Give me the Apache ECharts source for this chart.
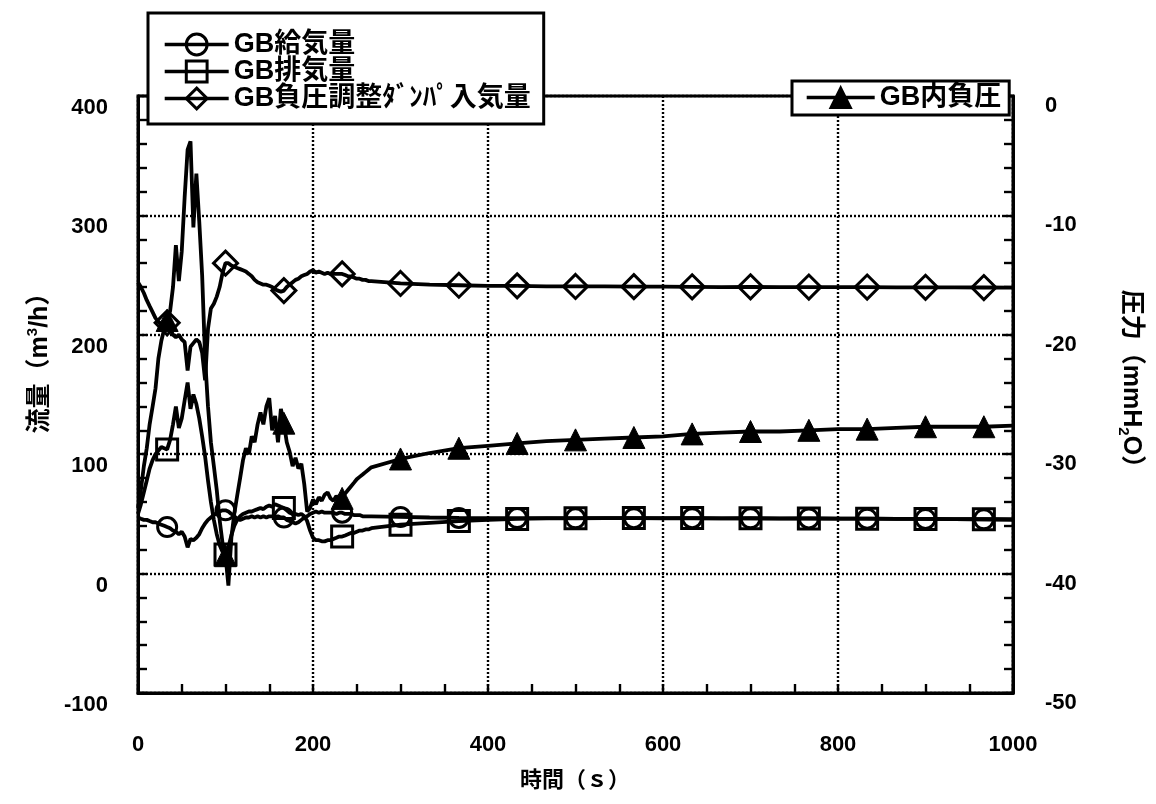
<!DOCTYPE html>
<html>
<head>
<meta charset="utf-8">
<script src="https://cdn.jsdelivr.net/npm/echarts@6/dist/echarts.min.js"></script>
<style>
  html, body { margin: 0; padding: 0; background: #fff; }
  #chart { width: 1156px; height: 804px; }
</style>
</head>
<body>
<div id="chart"></div>
<script>
// Sample times (s)
const times = [
  0, 3.3, 6.7, 10, 13.3, 16.7, 20, 23.3, 26.7, 30,
  33.3, 36.7, 40, 43.3, 46.7, 50, 53.3, 56.7, 60, 63.3,
  66.7, 70, 73.3, 76.7, 80, 83.3, 86.7, 90, 93.3, 96.7,
  100, 103.3, 106.7, 110, 113.3, 116.7, 120, 123.3, 126.7, 130,
  133.3, 136.7, 140, 143.3, 146.7, 150, 153.3, 156.7, 160, 163.3,
  166.7, 170, 173.3, 176.7, 180, 183.3, 186.7, 190, 193.3, 196.7,
  200, 203.3, 206.7, 210, 213.3, 216.7, 220, 223.3, 226.7, 230,
  233.3, 236.7, 240, 243.3, 246.7, 250, 253.3, 256.7, 260, 263.3,
  266.7,
  300, 333.3, 366.7, 400, 433.3, 466.7, 500, 533.3, 566.7, 600,
  633.3, 666.7, 700, 733.3, 766.7, 800, 833.3, 866.7, 900, 933.3,
  966.7, 1000
];

// GB給気量 (m3/h)
const supplyFlow = [
  47, 46, 45, 45, 44, 43, 43, 42, 41, 40,
  39, 38, 36, 35, 33, 35, 31, 22, 29, 28,
  30, 33, 38, 42, 45, 47, 49, 51, 52, 53,
  53, 52, 50, 48, 46, 45, 46, 47, 47, 48,
  47, 48, 47, 48, 47, 48, 48, 47, 48, 47,
  47, 45, 44, 43, 42, 43, 45, 47, 48, 50,
  51, 52, 51, 52, 51, 51, 51, 51, 50, 51,
  51, 50, 50, 50, 49, 49, 49, 48, 48, 48,
  48,
  47.5, 47, 46.6, 46.5, 46.5, 46.4, 46.3, 46.5, 46.4, 46.3,
  46.4, 46.2, 46.3, 46.1, 46.2, 46, 46, 45.8, 45.8, 45.6,
  45.5, 45.3
];

// GB排気量 (m3/h)
const exhaustFlow = [
  50, 58, 68, 78, 88, 95, 100, 103, 106, 105,
  104, 112, 125, 140, 122, 130, 145, 160, 138, 150,
  142, 130, 115, 98, 78, 60, 45, 33, 24, 18,
  16, 22, 32, 40, 45, 48, 50, 51, 52, 52,
  53, 54, 55, 54, 56, 57, 56, 58, 57, 56,
  55, 53, 51, 50, 50, 49, 50, 48, 44, 36,
  30, 28, 28, 27, 27, 28, 28, 29, 30, 31,
  31, 32, 33, 34, 34, 35, 36, 36, 37, 37,
  38,
  41, 42.5, 44, 45, 45.8, 46.2, 46.4, 46.5, 46.5, 46.4,
  46.5, 46.3, 46.4, 46.2, 46.2, 46.1, 46, 45.9, 45.8, 45.6,
  45.5, 45.3
];

// GB負圧調整ダンパ入気量 (m3/h)
const damperFlow = [
  244, 240, 235, 229, 224, 219, 214, 211, 209, 207,
  210, 205, 200, 198, 200, 196, 194, 170, 190, 193,
  196, 194, 185, 162, 205, 222, 226, 232, 240, 252,
  260, 260, 258, 257, 256, 255, 254, 253, 251, 249,
  246, 244, 243, 242, 242, 241, 240, 238, 237, 236,
  237, 240, 242, 244, 246, 247, 249, 250, 251, 253,
  254, 252, 253, 252, 251, 252, 251, 251, 251, 251,
  251, 250, 249, 249, 248, 247, 247, 246, 246, 245,
  245,
  243, 242, 241.5, 241, 241, 240.5, 240.5, 240.5, 240.3, 240.3,
  240.2, 240, 240.2, 240, 240, 240, 240, 239.8, 239.8, 239.7,
  239.6, 239.5
];

// GB内負圧 (mmH2O)
const boxPressure = [
  -34.5, -33, -31, -29.5, -27.5, -26, -24.5, -22, -20.5, -19.5,
  -18.8, -18, -16, -12.5, -15.5, -13, -8.5, -4.5, -3.8, -11,
  -6.5, -10.5, -15, -22, -26, -29, -31, -33, -35.5, -37.5,
  -38.5, -41, -37, -35, -33.5, -32, -30.5, -29.5, -30, -28.5,
  -29, -27.5, -26.5, -27.5, -26, -25.3, -28, -26.8, -29, -26.2,
  -27.4, -29, -29.8, -31, -30.3, -31.2, -30.8, -32.5, -34.8, -34.5,
  -33.8, -34.2, -33.6, -33.9, -33.4, -33.2, -33.7, -33.9, -33.5, -33.8,
  -33.7, -33.3, -33, -32.7, -32.4, -32.1, -31.9, -31.7, -31.5, -31.3,
  -31.1,
  -30.4, -29.9, -29.5, -29.3, -29.1, -28.9, -28.8, -28.7, -28.6, -28.5,
  -28.3, -28.2, -28.1, -28.1, -28, -27.9, -27.9, -27.8, -27.7, -27.7,
  -27.7, -27.6
];

// Times at which a plot symbol is drawn on each line
const markerTimes = [33.3, 100, 166.7, 233.3, 300, 366.7, 433.3, 500, 566.7, 633.3, 700, 766.7, 833.3, 900, 966.7];

const seriesNames = ['GB給気量', 'GB排気量', 'GB負圧調整ﾀﾞﾝﾊﾟ入気量', 'GB内負圧'];

const FONT = "'Liberation Sans', 'Noto Sans CJK JP', sans-serif";

function pairs(vals) { return times.map((t, i) => [t, vals[i]]); }
function isMarker(t) { return markerTimes.some(m => Math.abs(m - t) < 0.05); }
function markerSize(size) { return (val) => (isMarker(val[0]) ? size : 0); }

const LINE_W = 3.8;
const hollow = { color: 'rgba(0,0,0,0)', borderColor: '#000', borderWidth: 3 };
const solid = { color: '#000', borderColor: '#000', borderWidth: 1 };
const tickStyle = { color: '#000', width: 2.4 };
const labelBase = { fontSize: 22, fontWeight: 'bold', color: '#000', fontFamily: FONT };

function lineSeries(name, vals, symbol, size, itemStyle, yAxisIndex) {
  return {
    name: name,
    type: 'line',
    yAxisIndex: yAxisIndex,
    data: pairs(vals),
    symbol: symbol,
    symbolSize: markerSize(size),
    showSymbol: true,
    showAllSymbol: true,
    lineStyle: { color: '#000', width: LINE_W },
    itemStyle: itemStyle,
    emphasis: { disabled: true },
    z: 3
  };
}

const chart = echarts.init(document.getElementById('chart'), null, { renderer: 'canvas' });

chart.setOption({
  animation: false,
  backgroundColor: '#fff',
  grid: {
    left: 138, right: 143, top: 96, bottom: 111,
    show: true, borderColor: '#000', borderWidth: 3, backgroundColor: 'transparent'
  },
  xAxis: {
    type: 'value', min: 0, max: 1000, interval: 200,
    axisLine: { onZero: false, lineStyle: { color: '#000', width: 3 } },
    axisTick: { inside: true, length: 9, lineStyle: tickStyle },
    minorTick: { show: true, splitNumber: 4, length: 9, lineStyle: tickStyle },
    axisLabel: Object.assign({ margin: 41, formatter: (v) => String(v) }, labelBase),
    splitLine: { show: true, lineStyle: { color: '#000', width: 2.4, type: [2, 2] } }
  },
  yAxis: [
    {
      type: 'value', min: -100, max: 400, interval: 100, position: 'left',
      axisLine: { show: true, onZero: false, lineStyle: { color: '#000', width: 3 } },
      axisTick: { show: true, inside: true, length: 9, lineStyle: tickStyle },
      minorTick: { show: true, splitNumber: 5, length: 9, lineStyle: tickStyle },
      axisLabel: Object.assign({ margin: 30, verticalAlign: 'top', padding: [1, 0, 0, 0] }, labelBase),
      splitLine: { show: true, lineStyle: { color: '#000', width: 2.4, type: [2, 2] } }
    },
    {
      type: 'value', min: -50, max: 0, interval: 10, position: 'right',
      axisLine: { show: true, onZero: false, lineStyle: { color: '#000', width: 3 } },
      axisTick: { show: true, inside: true, length: 9, lineStyle: tickStyle },
      minorTick: { show: true, splitNumber: 5, length: 9, lineStyle: tickStyle },
      axisLabel: Object.assign({ margin: 32, verticalAlign: 'top', padding: [-1, 0, 0, 0] }, labelBase),
      splitLine: { show: false }
    }
  ],
  legend: [
    {
      data: seriesNames.slice(0, 3),
      orient: 'vertical',
      left: 148, top: 13,
      padding: [18, 13, 12, 15],
      itemGap: 0,
      itemWidth: 64, itemHeight: 26,
      backgroundColor: '#fff', borderColor: '#000', borderWidth: 3,
      selectedMode: false,
      itemStyle: { borderWidth: 3 },
      lineStyle: { width: 3.4 },
      textStyle: { fontSize: 27, fontWeight: 'bold', color: '#000', fontFamily: FONT, lineHeight: 27 },
      z: 10
    },
    {
      data: seriesNames.slice(3),
      orient: 'vertical',
      left: 792, top: 81,
      padding: [3, 8, 4, 13],
      itemWidth: 68, itemHeight: 26,
      backgroundColor: '#fff', borderColor: '#000', borderWidth: 3,
      selectedMode: false,
      lineStyle: { width: 3.4 },
      textStyle: { fontSize: 27, fontWeight: 'bold', color: '#000', fontFamily: FONT, lineHeight: 27 },
      z: 10
    }
  ],
  graphic: [
    {
      type: 'text', x: 575, y: 781,
      style: {
        text: '時間（ｓ）', fill: '#000',
        font: 'bold 22px ' + FONT, align: 'center', verticalAlign: 'middle'
      }
    },
    {
      type: 'text', x: 40, y: 357, rotation: Math.PI / 2,
      style: {
        text: '{a|流量（m}{s|3}{a|/h）}',
        align: 'center', verticalAlign: 'middle',
        rich: {
          a: { fontSize: 25, fontWeight: 'bold', fontFamily: FONT, fill: '#000', lineHeight: 30 },
          s: { fontSize: 15, fontWeight: 'bold', fontFamily: FONT, fill: '#000', verticalAlign: 'top', lineHeight: 30 }
        }
      }
    },
    {
      type: 'text', x: 1131, y: 385, rotation: -Math.PI / 2,
      style: {
        text: '{a|圧力（mmH}{s|2}{a|O）}',
        align: 'center', verticalAlign: 'middle',
        rich: {
          a: { fontSize: 25, fontWeight: 'bold', fontFamily: FONT, fill: '#000', lineHeight: 30 },
          s: { fontSize: 15, fontWeight: 'bold', fontFamily: FONT, fill: '#000', verticalAlign: 'bottom', lineHeight: 30 }
        }
      }
    }
  ],
  series: [
    lineSeries(seriesNames[0], supplyFlow, 'circle', 19, hollow, 0),
    lineSeries(seriesNames[1], exhaustFlow, 'rect', 21, hollow, 0),
    lineSeries(seriesNames[2], damperFlow, 'diamond', 24, hollow, 0),
    lineSeries(seriesNames[3], boxPressure, 'triangle', 22, solid, 1)
  ]
});
</script>
</body>
</html>
